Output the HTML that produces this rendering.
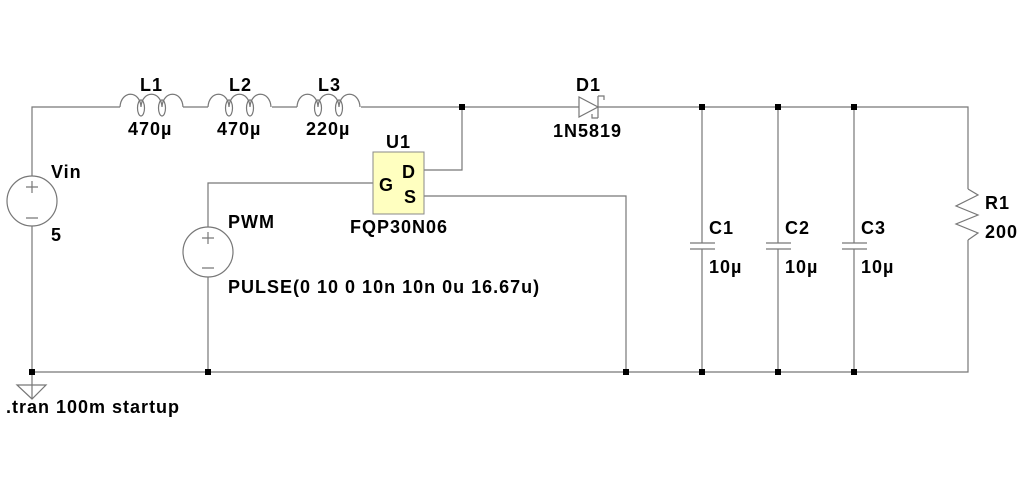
<!DOCTYPE html>
<html><head><meta charset="utf-8"><style>
html,body{margin:0;padding:0;background:#fff}
svg text{font-family:"Liberation Sans",sans-serif;font-weight:bold;font-size:18px;letter-spacing:1px;fill:#000}
</style></head><body>
<svg width="1024" height="487" viewBox="0 0 1024 487" xmlns="http://www.w3.org/2000/svg">
<g stroke="#777" stroke-width="1.2" fill="none">
<path d="M32 176 V107 H120 M183 107 H208 M272 107 H297 M361 107 H579 M598 107 H968 V189"/>
<g id="ind">
<path d="M120 107 C121 90 140 90 141 107 C142 90 161 90 162 107 C163 90 182 90 183 107"/>
<ellipse cx="141" cy="108" rx="3.5" ry="8"/>
<ellipse cx="162" cy="108" rx="3.5" ry="8"/>
</g>
<use href="#ind" x="88"/>
<use href="#ind" x="177"/>
<path d="M579 97 V117 L598 107 Z M598 96 V118 M598 96 H604 V100 M598 118 H592 V114"/>
<circle cx="32" cy="201" r="25"/>
<path d="M32 226 V399 M26 187 H38 M32 181 V193 M26 218 H38"/>
<path d="M32 385 L17 385 L32 399 L46 385 Z"/>
<circle cx="208" cy="252" r="25"/>
<path d="M208 227 V183 H373 M208 277 V372 M202 238 H214 M208 232 V244 M202 268 H214"/>
<path d="M424 170 H462 V107 M424 196 H626 V372"/>
<path d="M32 372 H968 V240"/>
<path d="M702 107 V243 M702 249 V372 M690 243 H715 M690 249 H715"/>
<path d="M778 107 V243 M778 249 V372 M766 243 H791 M766 249 H791"/>
<path d="M854 107 V243 M854 249 V372 M842 243 H867 M842 249 H867"/>
<path d="M968 189 L978 195 L956 206 L978 215 L956 224 L978 233 L968 240"/>
</g>
<rect x="373" y="152" width="51" height="62" fill="#ffffc0" stroke="#888" stroke-width="1"/>
<g fill="#000">
<rect x="459" y="104" width="6" height="6"/>
<rect x="699" y="104" width="6" height="6"/>
<rect x="775" y="104" width="6" height="6"/>
<rect x="851" y="104" width="6" height="6"/>
<rect x="29" y="369" width="6" height="6"/>
<rect x="205" y="369" width="6" height="6"/>
<rect x="623" y="369" width="6" height="6"/>
<rect x="699" y="369" width="6" height="6"/>
<rect x="775" y="369" width="6" height="6"/>
<rect x="851" y="369" width="6" height="6"/>
</g>
<text x="140" y="91">L1</text><text x="128" y="135">470µ</text>
<text x="229" y="91">L2</text><text x="217" y="135">470µ</text>
<text x="318" y="91">L3</text><text x="306" y="135">220µ</text>
<text x="576" y="91">D1</text><text x="553" y="137">1N5819</text>
<text x="386" y="148">U1</text>
<text x="402" y="178">D</text><text x="379" y="191">G</text><text x="404" y="203">S</text>
<text x="350" y="233">FQP30N06</text>
<text x="51" y="178">Vin</text><text x="51" y="241">5</text>
<text x="228" y="228">PWM</text>
<text x="228" y="293">PULSE(0 10 0 10n 10n 0u 16.67u)</text>
<text x="709" y="234">C1</text><text x="709" y="273">10µ</text>
<text x="785" y="234">C2</text><text x="785" y="273">10µ</text>
<text x="861" y="234">C3</text><text x="861" y="273">10µ</text>
<text x="985" y="209">R1</text><text x="985" y="238">200</text>
<text x="6" y="413">.tran 100m startup</text>
</svg>
</body></html>
